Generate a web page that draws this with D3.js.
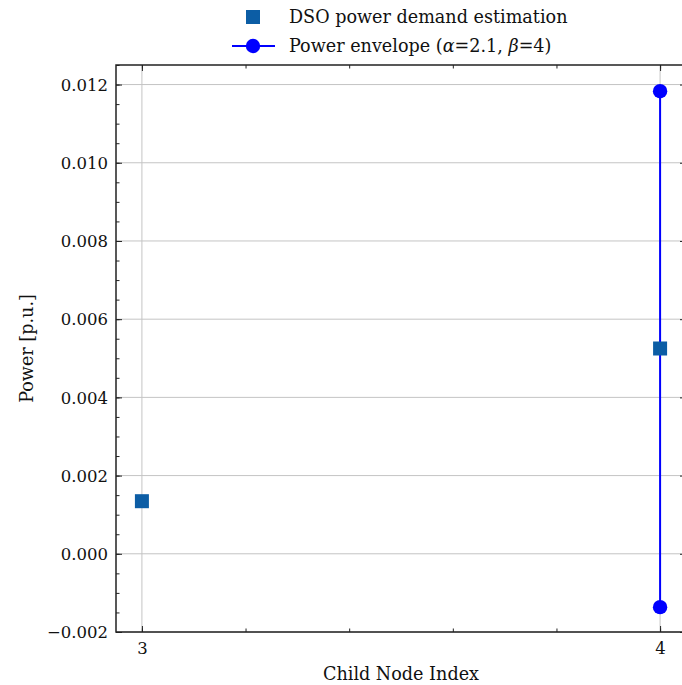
<!DOCTYPE html>
<html><head><meta charset="utf-8">
<script src="https://cdn.jsdelivr.net/npm/d3@7"></script>
<style>body{margin:0;background:#fff}svg{display:block}</style>
</head><body>
<svg id="c" width="682" height="685"></svg>
<script>
const nodes = [3, 4];
const dsoEstimate = [0.001345, 0.00525];
const envelopeNode = [4, 4];
const envelopeValues = [0.01183, -0.001365];
const yTicks = [-0.002, 0.000, 0.002, 0.004, 0.006, 0.008, 0.010, 0.012];
const xTicks = [3, 4];
const legendLabels = ["DSO power demand estimation", "Power envelope"];

const W = 682, H = 685;
const m = {left: 116, top: 65, right: 686, bottom: 632};
const svg = d3.select("#c");
const font = "DejaVu Serif";
const fs = "17.6px";
const tfs = "16.5px";
const x = d3.scaleLinear().domain([2.95, 4.05]).range([m.left, m.right]);
const y = d3.scaleLinear().domain([-0.002, 0.0125]).range([m.bottom, m.top]);

const g = svg.append("g");
g.selectAll(".gy").data(yTicks).enter().append("line")
  .attr("x1", m.left).attr("x2", m.right)
  .attr("y1", d => y(d)).attr("y2", d => y(d))
  .attr("stroke", "#c4c4c4").attr("stroke-width", 1);
g.selectAll(".gx").data(xTicks).enter().append("line")
  .attr("y1", m.top).attr("y2", m.bottom)
  .attr("x1", d => x(d)).attr("x2", d => x(d))
  .attr("stroke", "#c4c4c4").attr("stroke-width", 1);

const yMinor = d3.range(-0.002, 0.0125 + 1e-9, 0.0005);
const xMinor = d3.range(3, 4.001, 0.2);
function ax(axisFn, scale, ticks, size, tr, fmt) {
  return svg.append("g").attr("transform", tr)
    .call(axisFn(scale).tickValues(ticks).tickSize(size).tickFormat(fmt || ""));
}
const yFmt = d => d < 0 ? "\u2212" + Math.abs(d).toFixed(3) : d.toFixed(3);
const yl = ax(d3.axisLeft, y, yTicks, -6, `translate(${m.left},0)`, yFmt);
ax(d3.axisLeft, y, yMinor, -3.5, `translate(${m.left},0)`);
ax(d3.axisRight, y, yTicks, -6, `translate(${m.right},0)`);
ax(d3.axisRight, y, yMinor, -3.5, `translate(${m.right},0)`);
const xl = ax(d3.axisBottom, x, xTicks, -6, `translate(0,${m.bottom})`, d3.format("d"));
ax(d3.axisBottom, x, xMinor, -3.5, `translate(0,${m.bottom})`);
ax(d3.axisTop, x, xTicks, -6, `translate(0,${m.top})`);
ax(d3.axisTop, x, xMinor, -3.5, `translate(0,${m.top})`);
svg.selectAll(".domain").remove();
svg.selectAll(".tick line").attr("stroke", "#222").attr("stroke-width", 1);
svg.selectAll("g").attr("font-family", null).attr("font-size", null);
yl.selectAll("text").attr("x", -8).attr("dy", "0.35em")
  .attr("font-family", font).attr("font-size", tfs).attr("fill", "#111");
xl.selectAll("text").attr("y", 10).attr("dy", "0.71em")
  .attr("font-family", font).attr("font-size", tfs).attr("fill", "#111");

svg.append("rect").attr("x", m.left).attr("y", m.top)
  .attr("width", m.right - m.left).attr("height", m.bottom - m.top)
  .attr("fill", "none").attr("stroke", "#222").attr("stroke-width", 1.5);

const pts = envelopeNode.map((n, i) => [n, envelopeValues[i]]);
svg.append("path").datum(pts)
  .attr("d", d3.line().x(d => x(d[0])).y(d => y(d[1])))
  .attr("stroke", "#0000ff").attr("stroke-width", 2).attr("fill", "none");
svg.selectAll(".env").data(pts).enter().append("circle")
  .attr("cx", d => x(d[0])).attr("cy", d => y(d[1])).attr("r", 7.2)
  .attr("fill", "#0000ff");

const s = 14;
svg.selectAll(".dso").data(nodes).enter().append("rect")
  .attr("x", (d) => x(d) - s / 2).attr("y", (d, i) => y(dsoEstimate[i]) - s / 2)
  .attr("width", s).attr("height", s).attr("fill", "#0C5DA5");

svg.append("text").attr("x", (m.left + m.right) / 2).attr("y", 680)
  .attr("text-anchor", "middle").attr("font-family", font).attr("font-size", fs)
  .attr("fill", "#111").text("Child Node Index");
svg.append("text").attr("transform", `translate(33,${(m.top + m.bottom) / 2}) rotate(-90)`)
  .attr("text-anchor", "middle").attr("font-family", font).attr("font-size", fs)
  .attr("fill", "#111").text("Power [p.u.]");

const lg = svg.append("g");
lg.append("rect").attr("x", 253 - 7).attr("y", 17 - 7).attr("width", 14).attr("height", 14).attr("fill", "#0C5DA5");
lg.append("text").attr("x", 289).attr("y", 17).attr("dy", "0.35em")
  .attr("font-family", font).attr("font-size", fs).attr("fill", "#111").text(legendLabels[0]);
lg.append("line").attr("x1", 232).attr("x2", 275).attr("y1", 46).attr("y2", 46)
  .attr("stroke", "#0000ff").attr("stroke-width", 2);
lg.append("circle").attr("cx", 253).attr("cy", 46).attr("r", 7.2).attr("fill", "#0000ff");
const t2 = lg.append("text").attr("x", 289).attr("y", 46).attr("dy", "0.35em")
  .attr("font-family", font).attr("font-size", fs).attr("fill", "#111");
t2.append("tspan").text(legendLabels[1] + " (");
t2.append("tspan").attr("font-style", "italic").text("\u03b1");
t2.append("tspan").text("=2.1, ");
t2.append("tspan").attr("font-style", "italic").text("\u03b2");
t2.append("tspan").text("=4)");
</script>
</body></html>
